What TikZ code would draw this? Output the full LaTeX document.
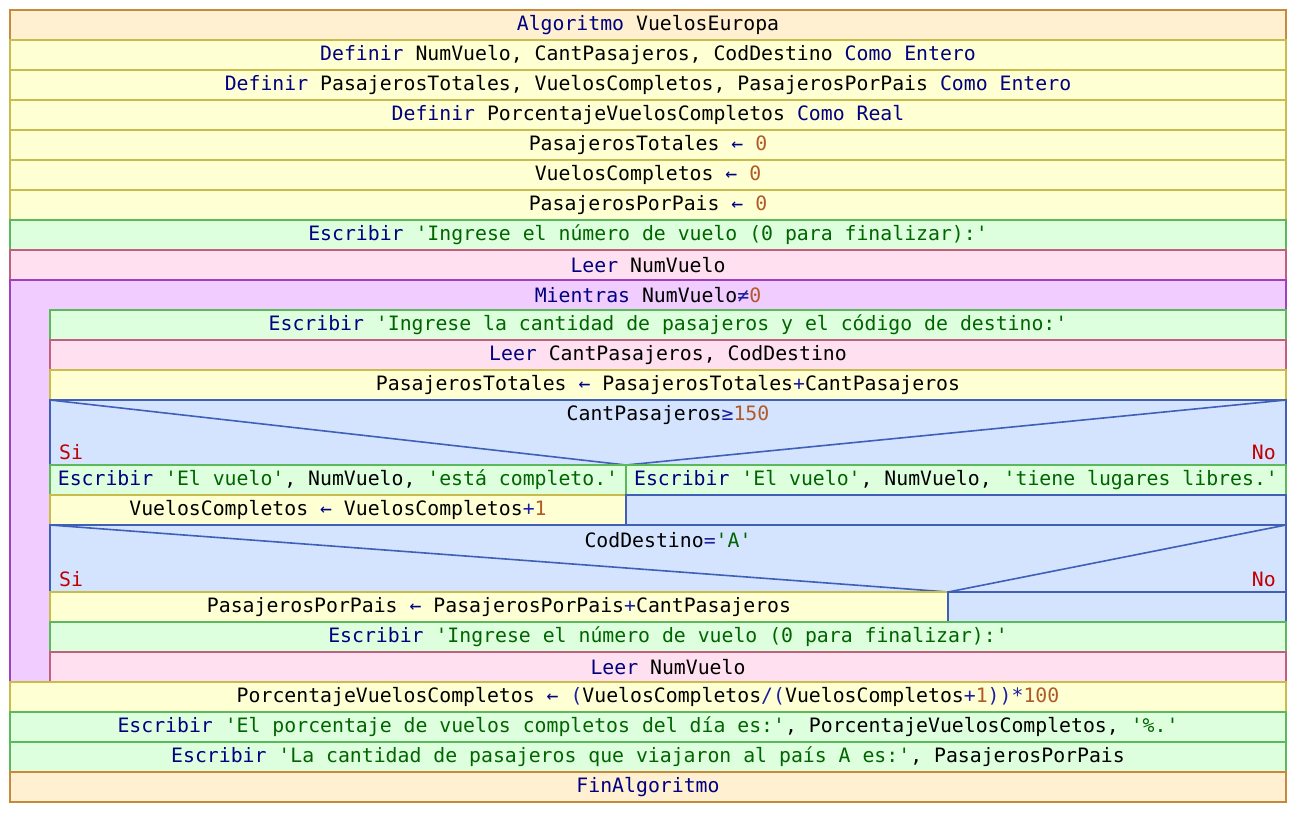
\documentclass[tikz,border=0pt]{standalone}
\usepackage{fontspec}
\setmonofont{DejaVu Sans Mono}
\definecolor{kwc}{HTML}{000080}
\definecolor{opc}{HTML}{1E1EA0}
\definecolor{stc}{HTML}{006400}
\definecolor{nmc}{HTML}{B05A28}
\definecolor{lbc}{HTML}{C00000}
\definecolor{algF}{HTML}{FFF0D2}\definecolor{algD}{HTML}{C8893A}
\definecolor{asgF}{HTML}{FFFFD4}\definecolor{asgD}{HTML}{C8BC4C}
\definecolor{outF}{HTML}{DDFFDD}\definecolor{outD}{HTML}{5CB85C}
\definecolor{inF}{HTML}{FFE0F0}\definecolor{inD}{HTML}{C0607F}
\definecolor{whF}{HTML}{F0CCFF}\definecolor{whD}{HTML}{A040C0}
\definecolor{ifF}{HTML}{D4E4FF}\definecolor{ifD}{HTML}{4060B8}
\newcommand\kw[1]{\textcolor{kwc}{#1}}
\newcommand\op[1]{\textcolor{opc}{#1}}
\newcommand\st[1]{\textcolor{stc}{#1}}
\newcommand\nm[1]{\textcolor{nmc}{#1}}
\newcommand\asg{\textcolor{kwc}{←}}
\begin{document}
\begin{tikzpicture}[x=1pt,y=-1pt,
  cell/.style={draw, line width=1.6pt, inner sep=0pt, outer sep=0pt, anchor=north west,
    minimum height=30pt, font=\ttfamily\fontsize{19.8}{22}\selectfont},
  full/.style={cell, minimum width=1276pt},
  body/.style={cell, minimum width=1236pt},
  alg/.style={fill=algF, draw=algD},
  asgn/.style={fill=asgF, draw=asgD},
  outp/.style={fill=outF, draw=outD},
  inp/.style={fill=inF, draw=inD},
  whl/.style={fill=whF, draw=whD},
  ifc/.style={fill=ifF, draw=ifD},
  txt/.style={inner sep=0pt, font=\ttfamily\fontsize{19.8}{22}\selectfont},
  lbl/.style={inner sep=0pt, text=lbc, font=\ttfamily\fontsize{19.8}{22}\selectfont}]
\useasboundingbox (0,0) rectangle (1296,812);
\node[full, alg]  (n1) at (10,10)  {\kw{Algoritmo} VuelosEuropa};
\node[full, asgn] (n2) at (10,40)  {\kw{Definir} NumVuelo, CantPasajeros, CodDestino \kw{Como Entero}};
\node[full, asgn] (n3) at (10,70)  {\kw{Definir} PasajerosTotales, VuelosCompletos, PasajerosPorPais \kw{Como Entero}};
\node[full, asgn] (n4) at (10,100) {\kw{Definir} PorcentajeVuelosCompletos \kw{Como Real}};
\node[full, asgn] (n5) at (10,130) {PasajerosTotales \asg{} \nm{0}};
\node[full, asgn] (n6) at (10,160) {VuelosCompletos \asg{} \nm{0}};
\node[full, asgn] (n7) at (10,190) {PasajerosPorPais \asg{} \nm{0}};
\node[full, outp] (n8) at (10,220) {\kw{Escribir} \st{'Ingrese el número de vuelo (0 para finalizar):'}};
\node[full, inp]  (n9) at (10,250) {\kw{Leer} NumVuelo};
% loop
\node[full, whl, minimum height=402pt] (loop) at (10,280) {};
\node[txt] (looph) at (648,295) {\kw{Mientras} NumVuelo\op{≠}\nm{0}};
\node[body, outp] (b1) at (50,310) {\kw{Escribir} \st{'Ingrese la cantidad de pasajeros y el código de destino:'}};
\node[body, inp]  (b2) at (50,340) {\kw{Leer} CantPasajeros, CodDestino};
\node[body, asgn] (b3) at (50,370) {PasajerosTotales \asg{} PasajerosTotales\op{+}CantPasajeros};
% if 1
\node[body, ifc, minimum height=65pt] (if1) at (50,400) {};
\coordinate (v1) at (626,465);
\draw[ifD, line width=1.6pt] (if1.north west) -- (v1) -- (if1.north east);
\node[txt] (c1) at (668,415) {CantPasajeros\op{≥}\nm{150}};
\node[lbl, anchor=west] (si1) at (59,452) {Si};
\node[lbl, anchor=east] (no1) at (1276,452) {No};
\node[cell, outp, minimum width=576pt] (t1) at (50,465) {\kw{Escribir} \st{'El vuelo'}, NumVuelo, \st{'está completo.'}};
\node[cell, outp, minimum width=660pt] (f1) at (626,465) {\kw{Escribir} \st{'El vuelo'}, NumVuelo, \st{'tiene lugares libres.'}};
\node[cell, asgn, minimum width=576pt] (t2) at (50,495) {VuelosCompletos \asg{} VuelosCompletos\op{+}\nm{1}};
\node[cell, ifc, minimum width=660pt] (f2) at (626,495) {};
% if 2
\node[body, ifc, minimum height=67pt] (if2) at (50,525) {};
\coordinate (v2) at (948,592);
\draw[ifD, line width=1.6pt] (if2.north west) -- (v2) -- (if2.north east);
\node[txt] (c2) at (668,540) {CodDestino\op{=}\st{'A'}};
\node[lbl, anchor=west] (si2) at (59,579) {Si};
\node[lbl, anchor=east] (no2) at (1276,579) {No};
\node[cell, asgn, minimum width=898pt] (t3) at (50,592) {PasajerosPorPais \asg{} PasajerosPorPais\op{+}CantPasajeros};
\node[cell, ifc, minimum width=338pt] (f3) at (948,592) {};
\node[body, outp] (b4) at (50,622) {\kw{Escribir} \st{'Ingrese el número de vuelo (0 para finalizar):'}};
\node[body, inp]  (b5) at (50,652) {\kw{Leer} NumVuelo};
% after loop
\node[full, asgn] (n10) at (10,682) {PorcentajeVuelosCompletos \asg{} \op{(}VuelosCompletos\op{/(}VuelosCompletos\op{+}\nm{1}\op{))*}\nm{100}};
\node[full, outp] (n11) at (10,712) {\kw{Escribir} \st{'El porcentaje de vuelos completos del día es:'}, PorcentajeVuelosCompletos, \st{'\%.'}};
\node[full, outp] (n12) at (10,742) {\kw{Escribir} \st{'La cantidad de pasajeros que viajaron al país A es:'}, PasajerosPorPais};
\node[full, alg]  (n13) at (10,772) {\kw{FinAlgoritmo}};
\end{tikzpicture}
\end{document}
